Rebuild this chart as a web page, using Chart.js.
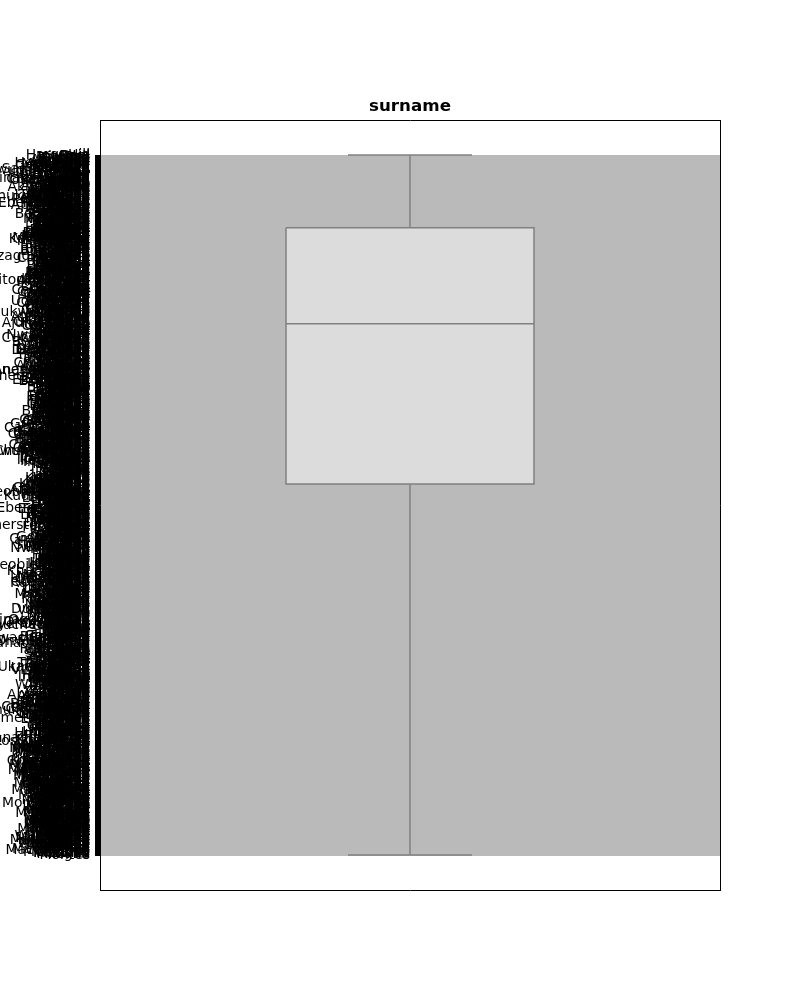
<!DOCTYPE html>
<html>
<head>
<meta charset="utf-8">
<script src="https://cdn.jsdelivr.net/npm/chart.js@4.4.1/dist/chart.umd.min.js"></script>
<style>
html,body{margin:0;padding:0;background:#ffffff;}
#wrap{width:800px;height:1000px;position:relative;}
</style>
</head>
<body>
<div id="wrap"><canvas id="c" width="800" height="1000"></canvas></div>
<script>
// Category labels (surnames) of the y axis, top to bottom
const surnames = `
Hargrave Hill Onio Boni Mitchell Chu Bartlett Obinna He Bearce Andrews Kay Chin Scott Goforth Romeo Henderson Muldrow Hao McDonald
Dellucci Gerasimov Mosman Yen Maclean Young Nebechi Lin Sadovnikova Heath Nnonso Okwudilichukwu Pisano Lu Tsao Genovese Ting Ugochukwu Zito Alexander
Kerr Golubev Ozioma Walker Ma Chikelu Kaodilinakachukwu Mazzi Chiemenam Stevenson Buchanan Okechukwu Parsons Yeh Brown Mao Pinto Lo Cross Ch'ang
Ashley Aguirre Ainsworth Akeroyd Akhmedova Alaniz Albert Alderson Alekseev Alexeeva Allard Alvarez Amadi Amaechi Andreev Angus Anichkov Anselm Antonov Anunoby
Tretiakova Okonkwo Chukwuemeka Boyle Fu Hsieh Kuo Ogbonna Olisanugo Ponomarev Dike Ibeabuchi Wilson Kennedy Palerma Padovesi Ebelechukwu Nikolayev Moore Johnson
Anyanwu Applebaum Arellano Argyle Armfield Arnott Artemiev Asher Ashworth Asuzu Atkins Aubrey Avdeev Avery Axford Babcock Baggs Bahrami Bainbridge Balboni
Ahmed Wang Guerin Sinclair Mancini Kovalyov Azubuike Trevisani Nwankwo Hughes Fanucci Tien Shih Fleming Mills Horsley Lombardi Yao Rowley Loggia
Balogun Bancroft Barbieri Bardin Barkley Barrett Barton Basile Bazarov Beale Beaulieu Bechtel Bedford Begum Belinsky Bellini Belonwu Benedetti Benjamin Bentley
Ejimofor Mikhailov Sabbatini Johnstone Birdseye Uspensky Martin McWilliams Dunbar Kambinachi Baresi Mai Tai Macartney Perkins Teng Hsu Lucciano Ferrari Thomas
Berezin Bertolini Beyer Bianco Bibi Bickford Bilyk Birch Blackwell Blanchard Blyth Boag Bobrov Bogdanov Bolt Bonham Bonnet Borisov Bosisto Boswell
Greene Greco Milne Chiazagomekpele Tseng Hsiung Chidiebele Yuan Manfrin Black Aldridge Robinson Sun Gordon Rahman Tan Milano Lorenzo Ayers Dyer
Bourne Bowden Boyce Brabham Bragg Bray Brenner Brewer Bright Brock Brodie Bromley Brunetti Buccho Buckland Budd Bukowski Bunce Burbidge Burrows
Shao Cameron Allan Simmons Clark Duncan Carr Marshall Chapman Patterson Bellucci Otitodilichukwu Armstrong Tu Wei Ikechukwu Moretti Endrizzi Glover Butler
Busby Cabrera Cadwell Cairns Calabrese Callahan Calvert Cantrell Capra Carlson Carmichael Carrasco Carvalho Cassidy Castellano Causer Cavanagh Celis Ceruti Chadwick
Liu Hunter Pai Okagbue Crawford Cocci Woronoff Sharpe Macleod Atherton Hickey Chiu Udokamma Langley Wu Forbes Chiawuotu Yusupova Hung Sagese
Chalmers Chan Chao Chernov Chibueze Chidi Chiebuka Chigozie Chikodili Chimezie Chinonso Chiwetelu Chou Christie Chukwudumebi Chung Ciccone Clay Clayton Cobb
Aksenov Kornilova Ritchie Zuyev Alekseyeva Chiefo Onyekachi Arnold Hayes Knox Chen Lai Calabresi Shen Oluchukwu Douglas Fiorentino Ajuluchukwu Kao Lawson
Cochrane Coffey Colombo Comstock Connolly Conway Corbett Cornish Corvi Costello Coulter Crane Crespi Crockett Cullen Curran Dalton Daly Dandrea Dangelo
Donnelly Nwachukwu Palermo Uchenna Miller Lori Chiemeka Cunningham Pan Ndukaku Russell Morgan Meng Kinlaw Ross Bogdanova Ferri Maslov Jamieson Yobanna
Darling Daugherty Davey Demidov DeRose Diaz Dickson Dolan Donaldson Dorsey Doubleday Drummond Dudley Duffy Dunlop Durant Dutton Eastman Eaton Echezona
Fyodorova Ni Castro Summers Graham Tang Trevisano Moss Ivanova Cheng Watson Lay Bradley Blinova Doyle Hunt Hsueh Chiekwugo Bruno Nicholson
Abbott Abdullah Adams Agafonova Akhtar Akobundu Alderete Allen Ames Amechi Anayochukwu Anenechukwu Angelini Anthony Arbour Archer Ashbolt Ashton Aslan Atkinson
Ede Egbunike Ekenedilichukwu Elizondo Ellison Emeka Ennis Eremenko Ermolaev Eskridge Everett Ezechukwu Ezekwesili Fabbri Fairley Falco Farrell Favors Fedorov Fennell
Austin Azuka Bage Bailey Baker Balashov Baldwin Banks Baranov Barber Barclay Barker Barnett Barry Bates Baxter Beatty Beck Belov Bell
Ferrara Fielding Filippova Fink Fitzroy Flanagan Fletcher Florey Fokine Fontana Fortune Foxall Franco Frederick Fry Fullerton Gabriel Gaffney Galloway Gamble
Benson Berry Biryukov Bishop Blake Blair Bolton Bond Booth Boucher Bowen Boyd Bradshaw Brennan Briggs Bristow Brookes Browne Bryant Buckley
Garcia Gaskell Gavrilov Geach George Ghazi Gibbs Gilmore Gladwell Gleeson Goldsmith Gonzalez Goodman Gordeev Gorbunov Gosling Gow Grady Grebenkina Green
Bull Burke Burns Burton Bushell Byrne Caldwell Cantamessa Capon Carey Carpenter Carroll Carter Cartwright Castiglione Chambers Chandler Chang Charlton Cheeseman
Grigoryeva Grimes Gubanova Guzman Haddock Haig Hampton Harley Harrington Hartley Hastings Hawthorne Hedley Henry Herbert Hicks Higgins Hoang Hodgson Holt
Cherkasova Chia Chiabuotu Chialuka Chigbogu Chikwado Chinweuba Chinomso Chiemezie Chijindum Chinedum Chukwudi Chukwufumnanya Chukwujekwu Ciorlieri Clarke Clements Cole Collins Cook
Horne Howells Hsing Hubbard Hume Hurst Ibekwe Ibezimako Ifesinachi Igwe Ihejirika Ikemefuna Ilechukwu Ingram Innes Iroawuchi Isaev Ivanov Izmailov Jackman
Cooper Corby Costa Cotton Cowan Craig Crouch Curtis Cusack Dale Daniels Darby Davies Davis Dawson Day Dean Dennis Dixon Dodd
Jameson Jeffery Jiang Jordan Judd Kaluza Kamenev Kazakov Keating Keen Kelley Kendall Kilpatrick Kirkland Knowles Kolobov Komarov Kononov Korolev Kovalenko
Cattaneo Kirby Tsai Warren Tuan McKenzie Chinwendu Azikiwe Rogova Kuznetsov Afanasyeva Jackson Bianchi Blackburn Ch'en Iweobiegbunam Barnes Gray Angelo McGregor
Kowalski Kramer Kudryavtsev Kulikov Lahti Lamberti Lancaster Landry Larsen Lawley Lazzari Leach Lebedev Leggett Lemon Leo Levine Lieber Lima Lister
Dobson Downer Drake Dunn Dwyer Eames Eberechukwu Edwards Egobudike Ekwueme Elliott Emenike Emery Enriquez Esposito Evans Fang Farmer Fenton Ferguson
Lombardo Lopez Love Ludwig Lyons Mabry Madison Maggio Maiorana Malloy Manley Mariani Marlow Marquez Marrero Marston Mascio Matthew Mauro Mays
Fetherstonhaugh Field Finch Fisher Fitzgerald Flores Foley Ford Foster Fowler Frank Fraser Freeman French Fuller Gardner Garrett Gates Ghazali Gilbert
Giles Gill Goddard Godfrey Golovanov Gomes Goodwin Gould Greenhalgh Gregory Grieve Gunn Hale Hall Hammond Harding Hardy Harris Harrison Hart
Sutherland Oliver Anderson Smith Davidson Pearson Nwokeocha Toscani Ellis Morrison Sokolov Frolov Grant Wood Nucci Piccio Kelly Vasiliev Fan Kemp
Harvey Hawkins Haynes Hearn Hilton Hobbs Hodges Holden Holland Holmes Hooper Hopkins Horton Howard Howell Hudson Huang Ignatyev Ilyina Iloabuchi
Iweobiegbulam Jarvis Jenkins Jennings Jobson Joyce Kang Karpov Kaye Keane Keller Kent Khan Kharlamova Kibby King Kingsley Kirk Klein Knight
Matthews Francis Fox Udegbulam Mackenzie Long Hamilton Lucas Obidimkpa Ikenna Cox Quinn Rossi Ryan Okwuoma Greenwood Rapuluolisa Ansell Howe Jones
Kozlov Kruglov Lambert Lane Lang Lapointe Larionova Law Lawrence Lee Leonard Lewis Li Lindsay Little Lloyd Logan Lowe Lynch Macdonald
Mahmoud Makarov Mann Marsh Mason Maxwell Mead Melnikov Middleton Miles Mishin Moffat Mullins Murphy Murray Nash Neal Nelson Newman Newton
Nwebube Mazzanti Marcelo Macvitie Chiang Nnaife Kung Manfredi Ward Dumetolisa Vorobyova Griffin Wells Lees Ayodele Trentino Hollis Mancuso Rogers Ellery
Nichols Ningrong Nixon Noble Norton Nowak Obiajulu Obijiaku Obioma Ochoa Odinakachukwu Ogochukwu Okeke Okoli Okorie Okwuadigbo Olsen Onuora Onwubiko Onyemachukwu
Onyemauchechukwu Orlov Osborne Owen Page Palmer Parker Parkes Payne Pearce Perry Phillips Pike Platt Pope Porter Potter Pratt Preston Price
Conti Powell Tokaryev Campbell Beneventi Gibson Coleman Nwachinemelu Hsiao Nweke Iloerika Forster Onwuamaeze Flannagan Reid Ogbodo Zikoranachidimma Gallo Nnamdi Lavrov
Pugh Rankin Read Reynolds Rice Richards Riley Rivera Roberts Robertson Rodgers Rose Rowe Rubin Rudd Salmon Saunders Savage Schofield Shaw
Shepherd Short Silva Simpson Skinner Slater Sorokina Spencer Stanley Steele Stone Storey Sullivan Sykes Tate Taylor Terry Thompson Thornton Todd
Townsend Tucker Turner Udobata Ukaegbunam Ulyanov Unaipon Underwood Valentine Vaughan Vinogradov Volkov Wade Walsh Walters Waters Watts Weaver Wallace Welch
Houghton Morozov Pollard Bennett Iheanacho Maynard Stewart Pickering Udinese Moriarty Willis Kaur Okafor Chibuzo Wheeler Mazur McIntyre Molnar Marino Ball
Whitehead Wiley Wilkins Williams Wong Woods Wright Wyatt Yates Yermakov Yin Zaitsev Zhdanov Zubarev Zubareva Zox Zetticci Zhirov Zotova Abramovich
Akabueze Aitken Ankudinov Arcuri Artemova Ayesha Baird Balsillie Barlow Belcher Bellasis Bevan Blackman Blomfield Bocharova Bradbury Brownless Burgess Burlingame Calzada
Capello Casey Cawker Chamberlain Chibugo Chidiegwu Chidumaga Chinagorom Chineze Chukwukadibia Clifton Coates Cockrum Collier Corran Coupp Cremonesi Crowley Dalrymple Davide
Denisova Desailly Dimauro Dore Dubinina Dumetochukwu Dynon Edman Eluemuno Emmett Ercolani Eze Ezeoke Fairbairn Fane Feng Findlay Fomin Forwood Gadsden
Galkina Gannon Giordano Glazkov Gorman Graves Grubb Hancock Harper Heap Herrera Hewitt Hingston Hoare Hopetoun Hou Humphries Ifeatu Ignatiev Ingrams
Isayeva Iwuoha Jacobs Jen Jeffries Kanayochukwu Kharitonov Kibble Kirillov Kolesnikov Korovin Kosisochukwu Krylov Kurtz Lamb Lazarev Leckie Lettiere Liao Lockyer
McAllister McBride McCann McCarthy McCormick McCullough McDermott McDougall McFarland McGowan McGrath McKinley McLaughlin McLeod McManus McNally McNeill McPherson McQueen McRae
Hanson Kelechi Webb Norris Brooks Russo Chukwuma Ifeanacho Barese West Mollison Chimaraoke Kuznetsova Moyer Tomlinson McIntosh Manna Macadam Mahomet Mordvinova
Medina Melton Merchant Meyer Mikhailova Milbourne Millar Miranda Mirzoyan Mohammed Monroe Montague Montanaro Moorhouse Moroney Morrell Mosley Moynihan Muir Mukherjee
Lucchese Lung Macfarlane Macintyre Mackie Madukwe Maggard Mahmood Maitland Maksimov Manning Marchesi Marks Marsden Martinez Massey Matveyeva Maurice Mbadiwe McGuigan
Mulligan Murchison Musgrave Muscat Myles Mwangi Mokosi Maddock Madsen Magnusson Majewski Malik Mancilla Mandla Marchetti Margetts Markov Marley Marriott Masterson
McHale McKay McKee McLean McNeil Meldrum Mercer Merritt Metcalfe Michael Mikkelsen Minchin Mironova Moffitt Monday Monds Montgomery Moreno Morley Morris
Mateo Maughan Mazzini McAuley McCabe McClure McCoy McCrae McDaniel McGinnis McGlynn McInnes McKellar McKinnon McMahon McNamara Meehan Meeks Menzies Mercado
Morton Mott Mueller Munro Murdoch Myers Maines Mandel Mansfield Marcum Margolin Mathews Mattingly Mauldin Mayhew Mazzone Meadows Melendez Mendez Merrill
Messina Micheli Milford Millen Minogue Mirabelli Moffett Mohr Monaghan Montalvo Moorcroft Morant Morello Moresby Morin Mortimer Mudge Murrell Musa Mutch
Mackay Moran Wentworth Mayne Morales Mellor McCartney Maddox Mokwuah McMillan Madukaego Moody Monaldo Martel Manners Medvedev Mikhaylov Milani Minton Mitchel
Moccasin Moloney Monk Moretto Morrow Moseley Mudie Mullen Maclachlan Macpherson Mahon Malone Mathis Mazzeo McElhone McEwen Mendes Milligan Molina Montes
`.trim().split(/\s+/);

// Box-plot summary, as share of the category range (min, Q1, median, Q3, max)
const statNames = ["min", "q1", "median", "q3", "max"];
const statShares = [0, 0.104, 0.241, 0.470, 1];
const chartTitle = "surname";

const last = surnames.length - 1;
const stats = statShares.map(s => s * last);
const vMin = stats[0], vQ1 = stats[1], vMed = stats[2], vQ3 = stats[3], vMax = stats[4];

const BOX_HALF = 0.2, CAP_HALF = 0.1;
const EDGE = "#808080";
const LW = 1.5;

const lineDs = (label, pts, order) => ({
  label, data: pts, showLine: true, borderColor: EDGE, borderWidth: LW,
  pointRadius: 0, pointHoverRadius: 0, fill: false, order, tension: 0,
  xAxisID: "x", yAxisID: "y"
});

const borderOnly = (pos, horizontal) => ({
  type: "linear", position: pos, display: true,
  ticks: { display: false },
  grid: { display: true, drawOnChartArea: false, drawTicks: false },
  border: { display: true, color: "#000000", width: 1 },
  afterFit: s => { if (horizontal) s.height = 0; else s.width = 0; }
});

new Chart(document.getElementById("c"), {
  type: "scatter",
  data: {
    datasets: [
      lineDs("whisker", [{x: 0, y: vMin}, {x: 0, y: vMax}], 5),
      lineDs("cap-top", [{x: -CAP_HALF, y: vMin}, {x: CAP_HALF, y: vMin}], 4),
      lineDs("cap-bottom", [{x: -CAP_HALF, y: vMax}, {x: CAP_HALF, y: vMax}], 3),
      Object.assign(lineDs("box", [
        {x: -BOX_HALF, y: vQ1}, {x: BOX_HALF, y: vQ1},
        {x: BOX_HALF, y: vQ3}, {x: -BOX_HALF, y: vQ3}, {x: -BOX_HALF, y: vQ1}
      ], 2), { fill: "shape", backgroundColor: "#dcdcdc" }),
      lineDs("median", [{x: -BOX_HALF, y: vMed}, {x: BOX_HALF, y: vMed}], 1)
    ]
  },
  options: {
    responsive: false,
    animation: false,
    events: [],
    layout: { padding: { top: 96, left: 0, right: 80, bottom: 110 } },
    plugins: {
      legend: { display: false },
      tooltip: { enabled: false },
      title: {
        display: true, text: chartTitle, fullSize: false, color: "#000000",
        font: { family: "DejaVu Sans", size: 16.7, weight: "bold", lineHeight: 1.2 },
        padding: { top: 1, bottom: 3 }
      }
    },
    scales: {
      y: {
        type: "linear", position: "left", reverse: true,
        min: -0.05 * last, max: 1.05 * last,
        afterFit: s => { s.width = 100; },
        afterBuildTicks: s => { s.ticks = surnames.map((_, i) => ({ value: i })); },
        ticks: {
          autoSkip: false, maxRotation: 0, minRotation: 0,
          padding: 5, color: "#000000",
          font: { family: "DejaVu Sans", size: 13.9 },
          callback: (v, i) => surnames[i]
        },
        grid: {
          display: true, drawOnChartArea: true, drawTicks: true,
          tickLength: 5, tickWidth: 1, lineWidth: 1,
          color: "#bababa", tickColor: "#000000"
        },
        border: { display: true, color: "#000000", width: 1 }
      },
      x: Object.assign(borderOnly("bottom", true), { min: -0.5, max: 0.5 }),
      xTop: Object.assign(borderOnly("top", true), { min: -0.5, max: 0.5 }),
      yRight: borderOnly("right", false)
    }
  }
});
</script>
</body>
</html>
